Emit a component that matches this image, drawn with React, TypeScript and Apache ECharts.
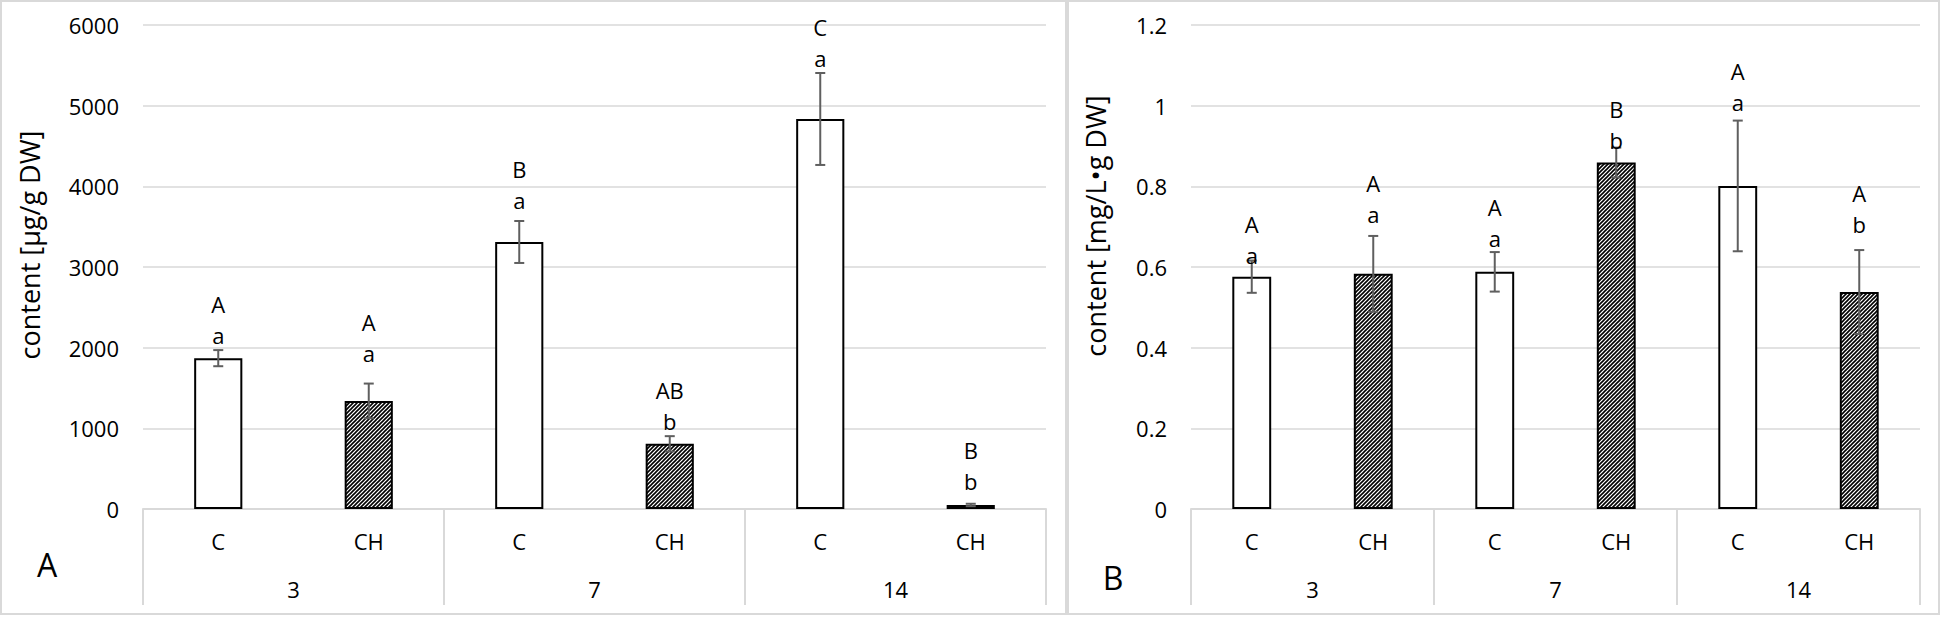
import React, { useEffect, useRef } from 'react';
import * as echarts from 'echarts';

// ---------- data ----------
const categories = ['C', 'CH', 'C', 'CH', 'C', 'CH'];
const groups = ['3', '7', '14'];
const treatment = ['C', 'CH', 'C', 'CH', 'C', 'CH'];

// Panel A: content [µg/g DW]
const valuesA = [1870, 1340, 3310, 808, 4835, 50];
const errorsA = [100, 215, 260, 95, 570, 15];
const labelAtA = [2157, 1934, 3835, 1091, 5597, 341];
const upperA = ['A', 'A', 'B', 'AB', 'C', 'B'];
const lowerA = ['a', 'a', 'a', 'b', 'a', 'b'];
const yMinA = 0;
const yMaxA = 6000;
const yStepA = 1000;

// Panel B: content [mg/L•g DW]
const valuesB = [0.576, 0.583, 0.588, 0.859, 0.801, 0.538];
const errorsB = [0.04, 0.094, 0.049, 0.037, 0.162, 0.104];
const labelAtB = [0.63, 0.731, 0.672, 0.915, 1.01, 0.707];
const upperB = ['A', 'A', 'A', 'B', 'A', 'A'];
const lowerB = ['a', 'a', 'a', 'b', 'a', 'b'];
const yMinB = 0;
const yMaxB = 1.2;
const yStepB = 0.2;

const titleA = 'content [µg/g DW]';
const titleB = 'content [mg/L•g DW]';
const panelA = 'A';
const panelB = 'B';

// ---------- styling ----------
const FONT = '"Open Sans", "Noto Sans", sans-serif';
const WEIGHT = 500;
const GRID_GRAY = '#d9d9d9';
const TEXT = '#000';

function makeHatch(): HTMLCanvasElement {
  const s = 4;
  const c = document.createElement('canvas');
  c.width = s;
  c.height = s;
  const ctx = c.getContext('2d')!;
  ctx.fillStyle = '#fff';
  ctx.fillRect(0, 0, s, s);
  ctx.strokeStyle = '#000';
  ctx.lineWidth = 1.6;
  ctx.beginPath();
  ctx.moveTo(-1, s + 1);
  ctx.lineTo(s + 1, -1);
  ctx.moveTo(-1, 1);
  ctx.lineTo(1, -1);
  ctx.moveTo(s - 1, s + 1);
  ctx.lineTo(s + 1, s - 1);
  ctx.stroke();
  return c;
}

function buildOption() {
  const hatch = makeHatch();
  const axisText = { color: TEXT, fontSize: 22, fontFamily: FONT, fontWeight: WEIGHT };

  const catAxis = (gridIndex: number) => ({
    type: 'category',
    gridIndex,
    data: categories,
    position: 'bottom',
    axisLine: { show: true, lineStyle: { color: GRID_GRAY, width: 2 } },
    axisTick: { show: false },
    axisLabel: { ...axisText, margin: 21, interval: 0 },
    splitLine: { show: false },
  });
  const groupAxis = (gridIndex: number) => ({
    type: 'category',
    gridIndex,
    data: groups,
    position: 'bottom',
    axisLine: { show: false },
    axisTick: { show: true, length: 96, lineStyle: { color: GRID_GRAY, width: 2 } },
    axisLabel: { ...axisText, margin: 69, interval: 0 },
    splitLine: { show: false },
  });
  const valAxis = (gridIndex: number, min: number, max: number, interval: number) => ({
    type: 'value',
    gridIndex,
    min,
    max,
    interval,
    axisLine: { show: false },
    axisTick: { show: false },
    axisLabel: {
      ...axisText,
      margin: 24,
      formatter: (v: number) => String(Math.round(v * 1000) / 1000),
    },
    splitLine: { show: true, lineStyle: { color: GRID_GRAY, width: 1.5 } },
  });

  const barData = (vals: number[]) =>
    vals.map((v, i) => ({
      value: v,
      itemStyle: {
        color: treatment[i] === 'C' ? '#ffffff' : { image: hatch, repeat: 'repeat' },
        borderColor: '#000',
        borderWidth: 2,
      },
    }));

  const errRender = (uppers: string[], lowers: string[]) => (params: any, api: any) => {
    const idx = params.dataIndex;
    const i = api.value(0);
    const v = api.value(1);
    const e = api.value(2);
    const la = api.value(3);
    const top = api.coord([i, v + e]);
    const bot = api.coord([i, Math.max(v - e, 0)]);
    const lab = api.coord([i, la]);
    const x = top[0];
    const cap = 5;
    const ls = { stroke: '#5f5f5f', lineWidth: 2 };
    const ts = {
      fill: TEXT,
      fontSize: 22,
      fontFamily: FONT,
      fontWeight: WEIGHT,
      align: 'center',
      verticalAlign: 'middle',
    };
    return {
      type: 'group',
      children: [
        { type: 'line', shape: { x1: x, y1: top[1], x2: x, y2: bot[1] }, style: ls },
        { type: 'line', shape: { x1: x - cap, y1: top[1], x2: x + cap, y2: top[1] }, style: ls },
        { type: 'line', shape: { x1: x - cap, y1: bot[1], x2: x + cap, y2: bot[1] }, style: ls },
        { type: 'text', x, y: lab[1], style: { ...ts, text: lowers[idx] } },
        { type: 'text', x, y: lab[1] - 31, style: { ...ts, text: uppers[idx] } },
      ],
    };
  };

  const errData = (vals: number[], errs: number[], labs: number[]) =>
    vals.map((v, i) => [i, v, errs[i], labs[i]]);

  const border = (x: number, y: number, w: number, h: number) => ({
    type: 'rect',
    shape: { x, y, width: w, height: h },
    style: { fill: 'none', stroke: GRID_GRAY, lineWidth: 2 },
    silent: true,
  });

  const title = (x: number, y: number, text: string) => ({
    type: 'text',
    x,
    y,
    rotation: Math.PI / 2,
    style: {
      text,
      fill: TEXT,
      fontSize: 27,
      fontFamily: FONT,
      fontWeight: WEIGHT,
      align: 'center',
      verticalAlign: 'middle',
    },
  });

  const letter = (x: number, y: number, text: string) => ({
    type: 'text',
    x,
    y,
    style: {
      text,
      fill: TEXT,
      fontSize: 32,
      fontFamily: FONT,
      fontWeight: WEIGHT,
      align: 'center',
      verticalAlign: 'middle',
    },
  });

  return {
    animation: false,
    backgroundColor: '#ffffff',
    grid: [
      { left: 143, top: 25, width: 903, height: 484, outerBoundsMode: 'none' },
      { left: 1191, top: 25, width: 729, height: 484, outerBoundsMode: 'none' },
    ],
    xAxis: [catAxis(0), groupAxis(0), catAxis(1), groupAxis(1)],
    yAxis: [valAxis(0, yMinA, yMaxA, yStepA), valAxis(1, yMinB, yMaxB, yStepB)],
    series: [
      {
        type: 'bar',
        xAxisIndex: 0,
        yAxisIndex: 0,
        barWidth: '32%',
        data: barData(valuesA),
        z: 2,
      },
      {
        type: 'custom',
        xAxisIndex: 0,
        yAxisIndex: 0,
        renderItem: errRender(upperA, lowerA),
        data: errData(valuesA, errorsA, labelAtA),
        encode: { x: 0, y: 1 },
        clip: false,
        z: 3,
      },
      {
        type: 'bar',
        xAxisIndex: 2,
        yAxisIndex: 1,
        barWidth: '32%',
        data: barData(valuesB),
        z: 2,
      },
      {
        type: 'custom',
        xAxisIndex: 2,
        yAxisIndex: 1,
        renderItem: errRender(upperB, lowerB),
        data: errData(valuesB, errorsB, labelAtB),
        encode: { x: 0, y: 1 },
        clip: false,
        z: 3,
      },
    ],
    graphic: [
      border(1, 1, 1065, 613),
      border(1068, 1, 871, 613),
      title(29, 245, titleA),
      title(1095, 226, titleB),
      letter(47, 564, panelA),
      letter(1113, 577, panelB),
    ],
  };
}

export default function App() {
  const ref = useRef<HTMLDivElement>(null);
  useEffect(() => {
    document.body.style.margin = '0';
    if (!ref.current) return;
    const chart = echarts.init(ref.current, undefined, { renderer: 'svg' });
    chart.setOption(buildOption() as any);
    return () => chart.dispose();
  }, []);
  return <div ref={ref} style={{ width: 1946, height: 617 }} />;
}
